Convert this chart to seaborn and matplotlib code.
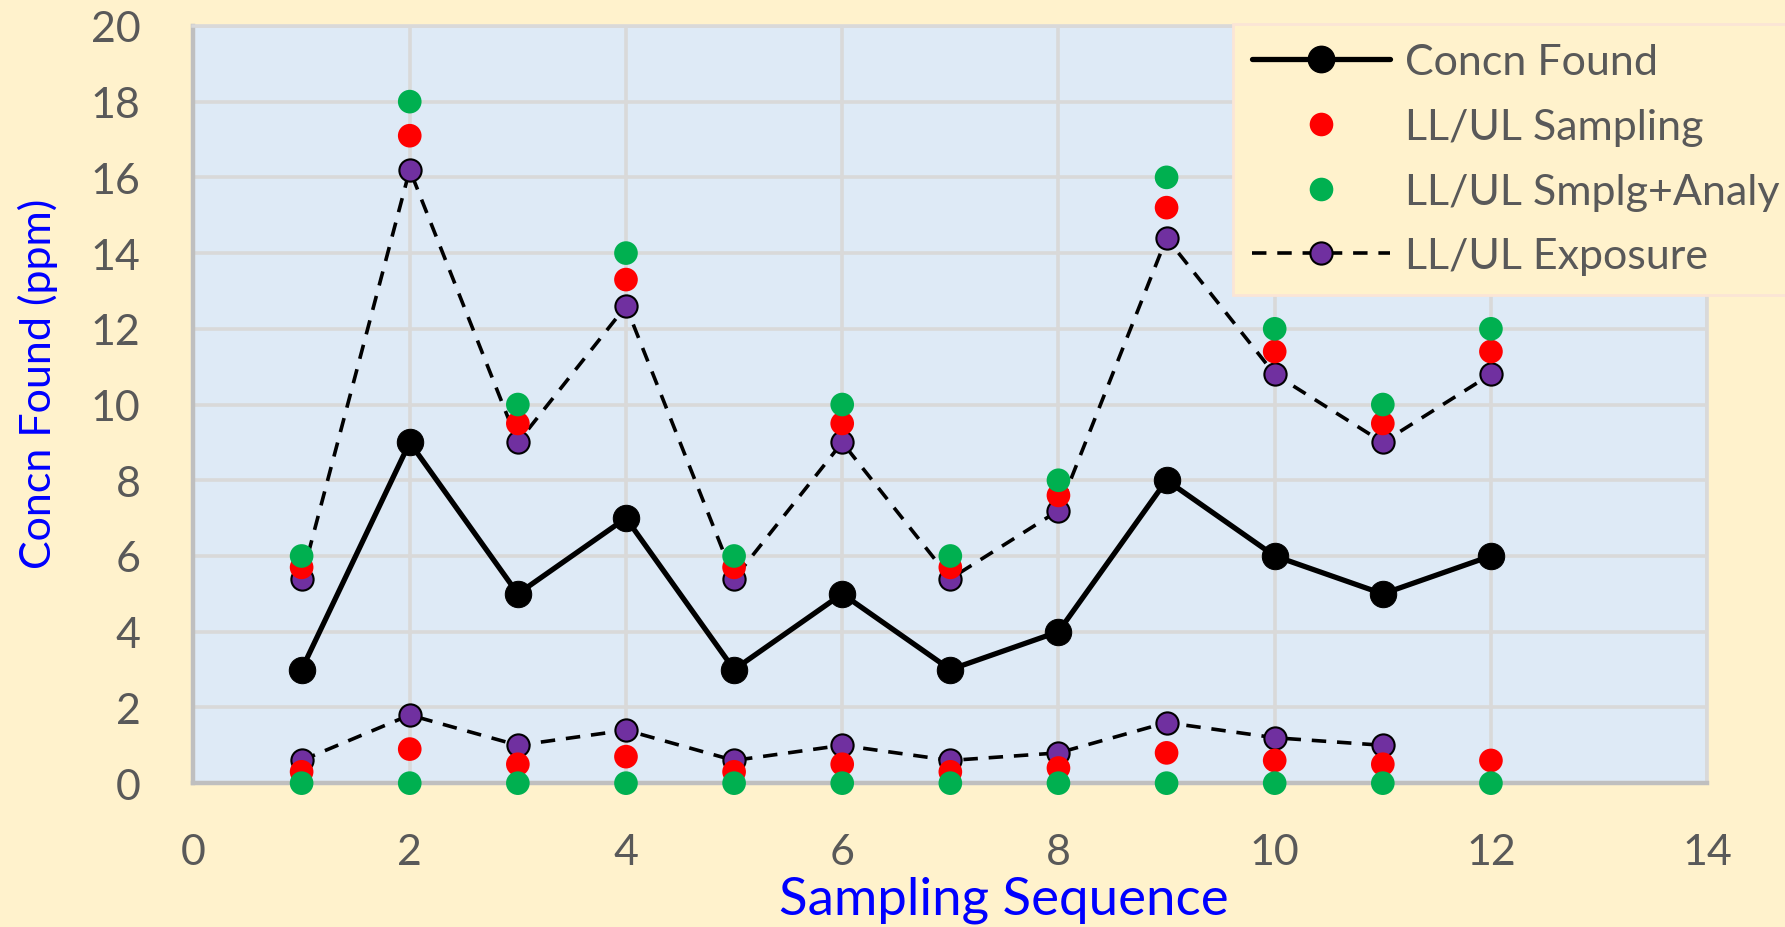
import matplotlib
matplotlib.use("Agg")
import matplotlib.pyplot as plt
import numpy as np
import pandas as pd
import seaborn as sns
from matplotlib.lines import Line2D

# Sampling sequence and measured concentrations (ppm)
sequence = [1, 2, 3, 4, 5, 6, 7, 8, 9, 10, 11, 12]
concn_found = [3, 9, 5, 7, 3, 5, 3, 4, 8, 6, 5, 6]

# Confidence limits: sampling only
sampling_ul = [5.7, 17.1, 9.5, 13.3, 5.7, 9.5, 5.7, 7.6, 15.2, 11.4, 9.5, 11.4]
sampling_ll = [0.3, 0.9, 0.5, 0.7, 0.3, 0.5, 0.3, 0.4, 0.8, 0.6, 0.5, 0.6]

# Confidence limits: sampling + analysis
smplg_analy_ul = [6, 18, 10, 14, 6, 10, 6, 8, 16, 12, 10, 12]
smplg_analy_ll = [0, 0, 0, 0, 0, 0, 0, 0, 0, 0, 0, 0]

# Confidence limits: exposure (no lower limit for the last sample)
exposure_ul = [5.4, 16.2, 9.0, 12.6, 5.4, 9.0, 5.4, 7.2, 14.4, 10.8, 9.0, 10.8]
exposure_ll = [0.6, 1.8, 1.0, 1.4, 0.6, 1.0, 0.6, 0.8, 1.6, 1.2, 1.0, np.nan]

x_ticks = [0, 2, 4, 6, 8, 10, 12, 14]
y_ticks = [0, 2, 4, 6, 8, 10, 12, 14, 16, 18, 20]

df = pd.DataFrame({
    "seq": sequence,
    "found": concn_found,
    "s_ul": sampling_ul, "s_ll": sampling_ll,
    "sa_ul": smplg_analy_ul, "sa_ll": smplg_analy_ll,
    "e_ul": exposure_ul, "e_ll": exposure_ll,
})

FIG_BG = "#FFF2CC"
PLOT_BG = "#DEEAF6"
GRID = "#D9D9D9"
TXT = "#595959"
RED = "#FF0000"
GREEN = "#00B050"
PURPLE = "#7030A0"

sns.set_theme(style="whitegrid")
plt.rcParams["font.family"] = ["Lato", "DejaVu Sans"]

fig = plt.figure(figsize=(17.85, 9.28), dpi=100, facecolor=FIG_BG)
ax = fig.add_axes([0.1084, 0.155, 0.848, 0.816])
ax.set_facecolor(PLOT_BG)

# Exposure limits: dashed line with purple markers
for col in ["e_ul", "e_ll"]:
    sub = df.dropna(subset=[col])
    sns.lineplot(data=sub, x="seq", y=col, ax=ax, color="black",
                 linestyle=(0, (4, 3)), linewidth=2.6, marker="o",
                 markersize=16, markerfacecolor=PURPLE,
                 markeredgecolor="black", markeredgewidth=1.5, zorder=3)

# Sampling limits (red) and sampling + analysis limits (green)
for col, c in [("s_ul", RED), ("s_ll", RED), ("sa_ul", GREEN), ("sa_ll", GREEN)]:
    sns.scatterplot(data=df, x="seq", y=col, ax=ax, color=c, s=290,
                    edgecolor="none", linewidth=0, zorder=4, clip_on=False)

# Concentration found: solid black line with markers
sns.lineplot(data=df, x="seq", y="found", ax=ax, color="black",
             linewidth=3.8, marker="o", markersize=19,
             markerfacecolor="black", markeredgecolor="black", zorder=5)

ax.set_xlim(0, 14)
ax.set_ylim(0, 20)
ax.set_xticks(x_ticks)
ax.set_yticks(y_ticks)
ax.grid(True, color=GRID, linewidth=2.6)
ax.set_axisbelow(True)
ax.tick_params(axis="both", length=0, labelsize=31, labelcolor=TXT)
ax.tick_params(axis="y", pad=38)
ax.tick_params(axis="x", pad=36)

for side in ["top", "right"]:
    ax.spines[side].set_color(GRID)
    ax.spines[side].set_linewidth(2.6)
for side in ["left", "bottom"]:
    ax.spines[side].set_color("#BFBFBF")
    ax.spines[side].set_linewidth(3.2)

ax.set_xlabel("Sampling Sequence", fontsize=38, color="#0000FF")
ax.set_ylabel("Concn Found (ppm)", fontsize=31, color="#0000FF")
ax.xaxis.set_label_coords(0.535, -0.153)
ax.yaxis.set_label_coords(-0.103, 0.528)
ax.xaxis.label.set_va("center")
ax.yaxis.label.set_va("center")

handles = [
    Line2D([], [], color="black", linewidth=3.8, marker="o", markersize=19),
    Line2D([], [], linestyle="none", marker="o", markersize=17,
           markerfacecolor=RED, markeredgecolor="none"),
    Line2D([], [], linestyle="none", marker="o", markersize=17,
           markerfacecolor=GREEN, markeredgecolor="none"),
    Line2D([], [], color="black", linestyle=(0, (4, 3)), linewidth=2.6,
           marker="o", markersize=16, markerfacecolor=PURPLE,
           markeredgecolor="black", markeredgewidth=1.5),
]
labels = ["Concn Found", "LL/UL Sampling", "LL/UL Smplg+Analy", "LL/UL Exposure"]
leg = fig.legend(handles, labels, loc="upper left",
                 bbox_to_anchor=(1233 / 1785, 1 - 25 / 928),
                 frameon=True, fancybox=False, fontsize=31,
                 handlelength=3.2, handletextpad=0.35, labelspacing=0.62,
                 borderpad=0.45, borderaxespad=0)
leg.get_frame().set_facecolor(FIG_BG)
leg.get_frame().set_edgecolor("#FBE5D6")
leg.get_frame().set_linewidth(2)
leg.get_frame().set_alpha(1)
for t in leg.get_texts():
    t.set_color(TXT)

fig.savefig("out.png", dpi=100, facecolor=FIG_BG)
